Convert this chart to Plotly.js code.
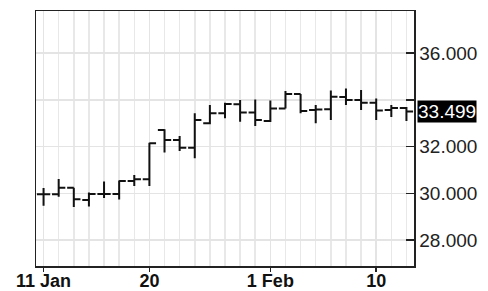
<!DOCTYPE html>
<html>
<head>
<meta charset="utf-8">
<script src="https://cdn.plot.ly/plotly-3.0.1.min.js"></script>
<style>
  html, body { margin: 0; padding: 0; background: #fff; }
  #chart { width: 488px; height: 291px; }
</style>
</head>
<body>
<div id="chart"></div>
<script>
// Trading days (weekdays), Jan 11 – Feb 12
const dates = [
  '2010-01-11','2010-01-12','2010-01-13','2010-01-14','2010-01-15',
  '2010-01-18','2010-01-19','2010-01-20','2010-01-21','2010-01-22',
  '2010-01-25','2010-01-26','2010-01-27','2010-01-28','2010-01-29',
  '2010-02-01','2010-02-02','2010-02-03','2010-02-04','2010-02-05',
  '2010-02-08','2010-02-09','2010-02-10','2010-02-11','2010-02-12'
];
const openVals  = [29.96,29.96,30.24,29.71,29.97,29.97,30.52,30.60,32.71,32.28,31.95,32.99,33.42,33.81,33.45,33.09,33.63,34.25,33.56,33.59,34.12,33.99,33.87,33.56,33.65];
const highVals  = [30.22,30.61,30.24,30.03,30.50,30.55,30.78,32.16,32.74,32.45,33.42,33.78,33.87,33.99,34.01,33.97,34.37,34.25,33.78,34.40,34.48,34.42,34.05,33.78,33.69];
const lowVals   = [29.47,29.85,29.41,29.43,29.80,29.73,30.31,30.31,31.74,31.81,31.50,32.95,33.21,33.06,32.88,33.05,33.63,33.42,32.99,33.13,33.78,33.56,33.13,33.26,33.09];
const closeVals = [29.96,30.24,29.74,29.97,29.97,30.52,30.60,32.14,32.28,31.95,33.13,33.42,33.82,33.45,33.13,33.63,34.25,33.52,33.58,34.13,33.99,33.87,33.54,33.65,33.499];

const xTickDates = ['2010-01-11','2010-01-20','2010-02-01','2010-02-10'];
const xTickText  = ['11 Jan','20','1 Feb','10'];
const yTickVals  = [28,30,32,34,36];
const yTickText  = ['28.000','30.000','32.000','','36.000'];
const lastPrice  = '33.499';

const noon = d => d + ' 12:00';
const FONT = 'Liberation Sans, Arial, Helvetica, sans-serif';

const trace = {
  type: 'ohlc',
  x: dates.map(noon),
  open: openVals, high: highVals, low: lowVals, close: closeVals,
  increasing: { line: { color: '#111', width: 2 } },
  decreasing: { line: { color: '#111', width: 2 } },
  tickwidth: 0.44,
  hoverinfo: 'skip',
  showlegend: false
};

const layout = {
  width: 488, height: 291,
  margin: { l: 36, r: 74, t: 11, b: 25 },
  paper_bgcolor: '#fff', plot_bgcolor: '#fff',
  font: { family: FONT, color: '#222' },
  showlegend: false,
  xaxis: {
    type: 'date',
    rangebreaks: [{ bounds: ['sat', 'mon'] }],
    range: ['2010-01-11 00:00', '2010-02-12 23:59:59'],
    rangeslider: { visible: false },
    tickmode: 'array',
    tickvals: xTickDates.map(noon),
    ticktext: xTickText,
    ticks: 'outside', ticklen: 4, tickwidth: 1.5, tickcolor: '#222',
    ticklabelstandoff: -6,
    tickfont: { family: FONT, size: 18, color: '#111', weight: 'bold' },
    showgrid: true, gridcolor: '#e4e4e4', gridwidth: 1.5,
    minor: { tick0: '2010-01-11 12:00', dtick: 86400000, showgrid: true, gridcolor: '#e8e8e8', gridwidth: 1.5, ticks: '' },
    showline: true, linecolor: '#222', linewidth: 1.5, mirror: true,
    zeroline: false, fixedrange: true
  },
  yaxis: {
    side: 'right',
    range: [26.888, 37.797],
    tickmode: 'array',
    tickvals: yTickVals, ticktext: yTickText,
    ticks: 'inside', ticklen: 8, tickwidth: 1.5, tickcolor: '#222',
    tickfont: { family: FONT, size: 19, color: '#222' },
    showgrid: true, gridcolor: '#e4e4e4', gridwidth: 1.5,
    showline: true, linecolor: '#222', linewidth: 1.5, mirror: true,
    zeroline: false, fixedrange: true
  },
  annotations: [{
    xref: 'paper', yref: 'y', x: 1, y: parseFloat(lastPrice),
    xanchor: 'left', yanchor: 'middle', xshift: 3,
    text: lastPrice, showarrow: false,
    bgcolor: '#000', borderpad: 0,
    font: { family: FONT, size: 19, color: '#fff' }
  }]
};

Plotly.newPlot('chart', [trace], layout, { displayModeBar: false, staticPlot: true });
</script>
</body>
</html>
